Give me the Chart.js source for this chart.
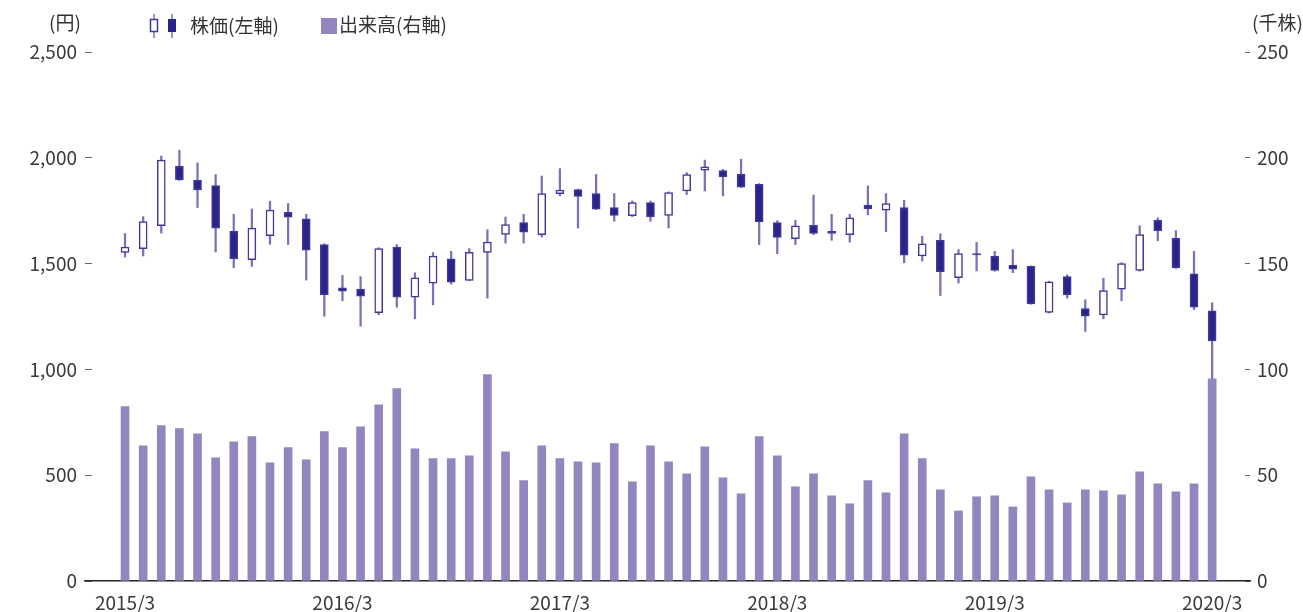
<!DOCTYPE html>
<html lang="ja">
<head>
<meta charset="utf-8">
<script src="https://cdn.jsdelivr.net/npm/chart.js@4.4.1/dist/chart.umd.min.js"></script>
<style>
html,body{margin:0;background:#fff;}
#wrap{position:relative;width:1303px;height:612px;font-family:"Noto Sans CJK JP","Noto Sans",sans-serif;color:#333;}
#wrap canvas{position:absolute;left:0;top:0;}
.lbl{position:absolute;font-size:19px;line-height:1;white-space:nowrap;}
.lbl svg{vertical-align:-5px;}
</style>
</head>
<body>
<div id="wrap">
  <canvas id="c" width="1303" height="612"></canvas>
  <div class="lbl" style="left:49px;top:12px">(円)</div>
  <div class="lbl" style="left:1252px;top:12px">(千株)</div>
  <div class="lbl" style="left:149px;top:14px"><svg width="41" height="24"><line x1="5" y1="0" x2="5" y2="24" stroke="#7873b8" stroke-width="1.5"/><rect x="1.5" y="5.5" width="7" height="12" fill="#fff" stroke="#3f3a99" stroke-width="1.5"/><line x1="23" y1="0" x2="23" y2="24" stroke="#7873b8" stroke-width="1.5"/><rect x="19" y="5" width="8" height="13" fill="#2a2388"/></svg>株価(左軸)</div>
  <div class="lbl" style="left:321px;top:14px"><svg width="17" height="22" style="margin-right:1px"><rect x="0" y="3" width="16" height="16" fill="#9385bd"/></svg>出来高(右軸)</div>
</div>
<script>
// Monthly candles (yen) and volume (thousand shares), 2015/3 .. 2020/3
const open  = [1553,1571,1679,1960,1894,1869,1653,1518,1632,1742,1711,1590,
               1386,1379,1268,1578,1341,1408,1523,1421,1553,1638,1694,1637,
               1831,1850,1831,1765,1727,1788,1728,1843,1941,1940,1922,1875,
               1694,1618,1681,1653,1637,1777,1752,1765,1536,1610,1433,1547,
               1536,1493,1487,1269,1439,1288,1258,1379,1468,1705,1619,1452,
               1277];
const close = [1578,1698,1989,1895,1848,1667,1523,1668,1753,1720,1564,1353,
               1370,1346,1571,1341,1433,1536,1412,1553,1602,1684,1649,1831,
               1848,1818,1757,1728,1788,1722,1836,1921,1957,1910,1861,1697,
               1624,1679,1643,1643,1716,1758,1784,1540,1594,1462,1547,1541,
               1468,1474,1310,1414,1353,1251,1372,1500,1637,1656,1479,1294,
               1135];
const high  = [1642,1722,2008,2036,1976,1921,1733,1758,1795,1784,1733,1594,
               1444,1438,1575,1590,1457,1552,1558,1571,1660,1720,1733,1914,
               1949,1852,1921,1831,1796,1796,1839,1930,1989,1945,1993,1878,
               1703,1705,1824,1733,1733,1867,1831,1799,1630,1641,1566,1600,
               1558,1566,1489,1417,1447,1329,1431,1504,1679,1716,1656,1558,
               1315];
const low   = [1531,1536,1644,1893,1765,1555,1481,1487,1591,1590,1422,1251,
               1324,1204,1258,1294,1239,1305,1403,1419,1337,1597,1597,1626,
               1820,1668,1755,1700,1722,1700,1668,1826,1843,1820,1859,1590,
               1547,1590,1637,1610,1602,1730,1651,1504,1512,1349,1408,1465,
               1464,1457,1308,1266,1337,1179,1239,1324,1464,1608,1477,1283,
               955];
const volume = [82.4,63.9,73.4,72.0,69.6,58.2,65.8,68.2,55.9,63.0,57.3,70.6,
                63.0,72.9,83.3,90.9,62.5,57.8,57.8,59.2,97.5,61.1,47.4,63.9,
                57.8,56.3,55.9,64.9,46.9,63.9,56.3,50.7,63.4,48.8,41.2,68.2,
                59.2,44.5,50.7,40.2,36.5,47.4,41.7,69.6,57.8,43.1,33.1,39.8,
                40.2,35.0,49.2,43.1,36.9,43.1,42.6,40.7,51.6,45.9,42.1,45.9,
                95.6];
const tickIdx = [0,12,24,36,48,60];
const tickLabels = ["2015/3","2016/3","2017/3","2018/3","2019/3","2020/3"];

const NAVY = "#2a2388", EDGE = "#3f3a99", WICK = "#7873b8", VOL = "#9385bd", TXT = "#3a3a3a";
const FONT = {family:"'Noto Sans CJK JP', 'Noto Sans', sans-serif", size:19};

new Chart(document.getElementById("c"), {
  type:"bar",
  data:{datasets:[
    {label:"出来高", yAxisID:"y1", order:0, grouped:false, barThickness:8,
     data:volume.map((v,i)=>({x:i, y:v})), backgroundColor:VOL},
    {label:"株価", yAxisID:"y", order:1, grouped:false, barThickness:8,
     data:open.map((o,i)=>({x:i, y:[o, close[i]]})),
     backgroundColor:open.map((o,i)=> close[i]>=o ? "#fff" : NAVY),
     borderColor:EDGE, borderWidth:1.5, borderSkipped:false},
    {label:"高値・安値", yAxisID:"y", order:2, grouped:false, barThickness:1.6,
     data:low.map((l,i)=>({x:i, y:[l, high[i]]})), backgroundColor:WICK}
  ]},
  options:{
    responsive:false, animation:false, events:[],
    layout:{padding:{top:52, left:0, right:0, bottom:0}},
    plugins:{legend:{display:false}, tooltip:{enabled:false}},
    scales:{
      x:{type:"linear", min:-2.21, max:62.09, offset:false,
         grid:{display:false, drawTicks:false},
         border:{display:true, color:"#2b2424", width:1.5},
         afterBuildTicks:s=>{ s.ticks = tickIdx.map(v=>({value:v})); },
         afterFit:s=>{ s.height = 31; },
         ticks:{autoSkip:false, maxRotation:0, padding:10, color:TXT, font:FONT,
                callback:v=>tickLabels[tickIdx.indexOf(v)]}},
      // short inward dashes: negative tick length pulls the marks into the plot
      y:{position:"left", min:0, max:2500,
         grid:{display:true, drawOnChartArea:false, drawTicks:true, tickLength:-7, tickColor:"#666", tickWidth:1},
         border:{display:false},
         afterFit:s=>{ s.width = 85; },
         ticks:{stepSize:500, padding:15, color:TXT, font:FONT,
                callback:v=>v.toLocaleString("en-US")}},
      y1:{position:"right", min:0, max:250,
          grid:{display:true, drawOnChartArea:false, drawTicks:true, tickLength:-5, tickColor:"#666", tickWidth:1},
          border:{display:false},
          afterFit:s=>{ s.width = 53; },
          ticks:{stepSize:50, padding:12, color:TXT, font:FONT}}
    }
  }
});
</script>
</body>
</html>
